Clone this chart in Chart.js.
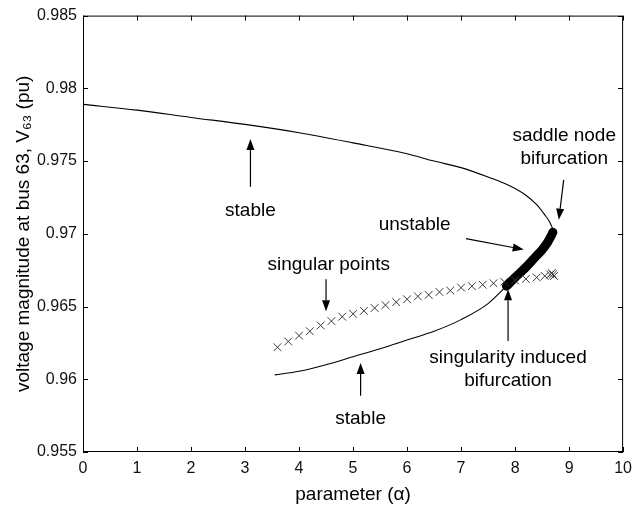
<!DOCTYPE html>
<html>
<head>
<meta charset="utf-8">
<script src="https://cdn.jsdelivr.net/npm/chart.js@4.4.1/dist/chart.umd.min.js"></script>
<style>
  html, body { margin: 0; padding: 0; background: #fff; }
  #wrap { width: 639px; height: 512px; }
</style>
</head>
<body>
<div id="wrap"><canvas id="c" width="639" height="512"></canvas></div>
<script>
// values

// upper stable branch
const upperAlpha = [0, 1, 2, 3, 4, 5, 6, 6.5, 7.0, 7.5, 7.9, 8.2, 8.4, 8.55, 8.65, 8.7];
const upperV = [0.9789, 0.9785, 0.9780, 0.97752, 0.97695, 0.97625, 0.9755, 0.9750, 0.97455,
  0.9739, 0.9733, 0.97265, 0.9720, 0.9713, 0.97075, 0.9703];

// unstable branch (thick)
const unstableAlpha = [7.84, 8.0, 8.2, 8.35, 8.5, 8.6, 8.66, 8.7];
const unstableV = [0.9664, 0.9670, 0.9677, 0.9683, 0.9689, 0.9694, 0.9698, 0.9701];

// lower stable branch
const lowerAlpha = [3.55, 4.0, 4.5, 5.0, 5.5, 6.0, 6.5, 7.0, 7.5, 7.84];
const lowerV = [0.9603, 0.96055, 0.9610, 0.96155, 0.9621, 0.9627, 0.9633, 0.9641, 0.9652, 0.9664];

// singular points (x markers)
const singAlpha = [3.6, 3.8, 4.0, 4.2, 4.4, 4.6, 4.8, 5.0, 5.2, 5.4, 5.6, 5.8, 6.0, 6.2, 6.4,
  6.6, 6.8, 7.0, 7.2, 7.4, 7.6, 7.8, 8.0, 8.2, 8.4, 8.55, 8.65, 8.7, 8.72, 8.68];
const singV = [0.9622, 0.9626, 0.9630, 0.9633, 0.9637, 0.9640, 0.9643, 0.9645, 0.9647, 0.9649,
  0.9651, 0.9653, 0.9655, 0.9657, 0.9658, 0.9660, 0.9661, 0.9663, 0.9664, 0.9665, 0.9666,
  0.9667, 0.9668, 0.9669, 0.9670, 0.9671, 0.9672, 0.9672, 0.9671, 0.9673];

const xTicks = [0, 1, 2, 3, 4, 5, 6, 7, 8, 9, 10];
const yTickLabels = ["0.955", "0.96", "0.965", "0.97", "0.975", "0.98", "0.985"];

// text labels with arrows, in data units
const notes = [
  { lines: ["stable"], x: 3.10, y: 0.97159, from: [3.10, 0.97323], to: [3.10, 0.97651] },
  { lines: ["singular points"], x: 4.55, y: 0.96789, from: [4.50, 0.96687], to: [4.50, 0.96468] },
  { lines: ["unstable"], x: 6.14, y: 0.97063, from: [7.09, 0.96967], to: [8.16, 0.96892] },
  { lines: ["saddle node", "bifurcation"], x: 8.91, y: 0.97672, from: [8.90, 0.97371], to: [8.81, 0.97097] },
  { lines: ["singularity induced", "bifurcation"], x: 7.87, y: 0.96146, from: [7.87, 0.96263], to: [7.87, 0.96618] },
  { lines: ["stable"], x: 5.14, y: 0.95729, from: [5.14, 0.95886], to: [5.14, 0.96112] }
];

function pts(xs, ys) {
  return xs.map((x, i) => ({ x: x, y: ys[i] }));
}

const FONT = "'Liberation Sans', Arial, Helvetica, sans-serif";

const boxAndNotes = {
  id: "boxAndNotes",
  afterDraw(chart) {
    const ctx = chart.ctx;
    const a = chart.chartArea;
    const xs = chart.scales.x, ys = chart.scales.y;
    ctx.save();
    // frame and inward ticks
    ctx.strokeStyle = "#000";
    ctx.lineWidth = 1;
    ctx.strokeRect(a.left + 0.5, a.top + 0.5, a.right - a.left - 1, a.bottom - a.top - 1);
    ctx.beginPath();
    xTicks.forEach(v => {
      const px = Math.round(xs.getPixelForValue(v)) + 0.5;
      ctx.moveTo(px, a.bottom); ctx.lineTo(px, a.bottom - 5);
      ctx.moveTo(px, a.top); ctx.lineTo(px, a.top + 5);
    });
    yTickLabels.forEach(t => {
      const py = Math.round(ys.getPixelForValue(parseFloat(t))) + 0.5;
      ctx.moveTo(a.left, py); ctx.lineTo(a.left + 5, py);
      ctx.moveTo(a.right, py); ctx.lineTo(a.right - 5, py);
    });
    ctx.stroke();

    // annotations
    ctx.fillStyle = "#000";
    ctx.font = "19px " + FONT;
    ctx.textAlign = "center";
    ctx.textBaseline = "middle";
    notes.forEach(n => {
      const cx = xs.getPixelForValue(n.x);
      const cy = ys.getPixelForValue(n.y);
      n.lines.forEach((s, i) => ctx.fillText(s, cx, cy + i * 23));
      const x0 = xs.getPixelForValue(n.from[0]), y0 = ys.getPixelForValue(n.from[1]);
      const x1 = xs.getPixelForValue(n.to[0]), y1 = ys.getPixelForValue(n.to[1]);
      const ang = Math.atan2(y1 - y0, x1 - x0);
      const hl = 11, hw = 4;
      const bx = x1 - hl * Math.cos(ang), by = y1 - hl * Math.sin(ang);
      ctx.beginPath();
      ctx.moveTo(x0, y0); ctx.lineTo(bx, by);
      ctx.lineWidth = 1.2;
      ctx.stroke();
      ctx.beginPath();
      ctx.moveTo(x1, y1);
      ctx.lineTo(bx + hw * Math.sin(ang), by - hw * Math.cos(ang));
      ctx.lineTo(bx - hw * Math.sin(ang), by + hw * Math.cos(ang));
      ctx.closePath();
      ctx.fill();
    });
    ctx.restore();
  }
};

new Chart(document.getElementById("c"), {
  type: "scatter",
  data: {
    datasets: [
      {
        label: "upper stable",
        data: pts(upperAlpha, upperV),
        showLine: true,
        borderColor: "#000",
        borderWidth: 1.1,
        pointRadius: 0,
        cubicInterpolationMode: "monotone"
      },
      {
        label: "lower stable",
        data: pts(lowerAlpha, lowerV),
        showLine: true,
        borderColor: "#000",
        borderWidth: 1.1,
        pointRadius: 0,
        cubicInterpolationMode: "monotone"
      },
      {
        label: "singular points",
        data: pts(singAlpha, singV),
        showLine: false,
        pointStyle: "crossRot",
        pointRadius: 5.5,
        borderColor: "#3a3a3a",
        borderWidth: 1,
        backgroundColor: "#3a3a3a"
      },
      {
        label: "unstable",
        data: pts(unstableAlpha, unstableV),
        showLine: true,
        borderColor: "#000",
        borderWidth: 9,
        borderCapStyle: "round",
        borderJoinStyle: "round",
        pointRadius: 0,
        cubicInterpolationMode: "monotone"
      }
    ]
  },
  options: {
    responsive: false,
    animation: false,
    events: [],
    layout: { padding: { top: 13, right: 0, left: 0, bottom: 0 } },
    plugins: {
      legend: { display: false },
      tooltip: { enabled: false }
    },
    scales: {
      x: {
        type: "linear",
        min: 0,
        max: 10,
        afterFit: s => { s.height = 60; },
        afterBuildTicks: s => { s.ticks = xTicks.map(v => ({ value: v })); },
        grid: { display: false, drawTicks: false },
        border: { display: false },
        ticks: {
          padding: 7,
          color: "#111",
          font: { family: FONT, size: 16 },
          callback: v => String(v)
        },
        title: {
          display: true,
          text: "parameter (α)",
          color: "#000",
          font: { family: FONT, size: 19 },
          padding: { top: 0, bottom: 6 }
        }
      },
      y: {
        type: "linear",
        min: 0.955,
        max: 0.985,
        afterFit: s => { s.width = 83; },
        afterBuildTicks: s => { s.ticks = yTickLabels.map(t => ({ value: parseFloat(t) })); },
        grid: { display: false, drawTicks: false },
        border: { display: false },
        ticks: {
          padding: 6,
          color: "#111",
          font: { family: FONT, size: 16 },
          callback: (v, i) => yTickLabels[i]
        },
        title: {
          display: true,
          text: "voltage magnitude at bus 63, V₆₃ (pu)",
          color: "#000",
          font: { family: FONT, size: 19 },
          padding: { top: 12, bottom: 0 }
        }
      }
    }
  },
  plugins: [boxAndNotes]
});
</script>
</body>
</html>
